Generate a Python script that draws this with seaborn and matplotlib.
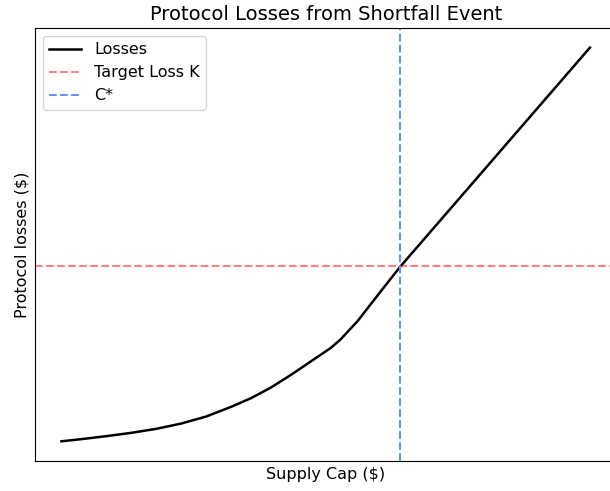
import matplotlib
matplotlib.use("Agg")
import matplotlib.pyplot as plt
import seaborn as sns
import pandas as pd

supply_cap = [0.0, 3.77, 8.49, 13.21, 17.92, 22.64, 27.36, 32.08, 35.85, 39.62,
              43.40, 47.17, 50.94, 52.83, 56.04, 58.49, 60.94, 64.15, 100.0]
losses = [0.13, 0.68, 1.44, 2.28, 3.29, 4.63, 6.41, 8.86, 11.06, 13.75,
          16.96, 20.38, 23.80, 26.0, 30.63, 34.86, 39.06, 44.5, 100.0]
target_loss_k = 44.5
c_star = 64.15

df = pd.DataFrame({"Supply Cap": supply_cap, "Losses": losses})

fig = plt.figure(figsize=(6.1, 4.91), dpi=100)
ax = fig.add_axes([0.0574, 0.0611, 0.953, 0.882])
sns.lineplot(data=df, x="Supply Cap", y="Losses", ax=ax, color="black", linewidth=1.8, label="Losses")
ax.axhline(target_loss_k, color="red", alpha=0.5, linestyle="--", linewidth=1.5, label="Target Loss K")
ax.axvline(c_star, color="cornflowerblue", linestyle="--", linewidth=1.5, label="C*")
ax.set_xticks([])
ax.set_yticks([])
ax.set_xlabel("Supply Cap ($)", fontsize=11.5)
ax.set_ylabel("Protocol losses ($)", fontsize=11.5)
ax.set_title("Protocol Losses from Shortfall Event", fontsize=14)
ax.legend(loc="upper left", fontsize=11.5)
fig.savefig("out.png", dpi=100)
